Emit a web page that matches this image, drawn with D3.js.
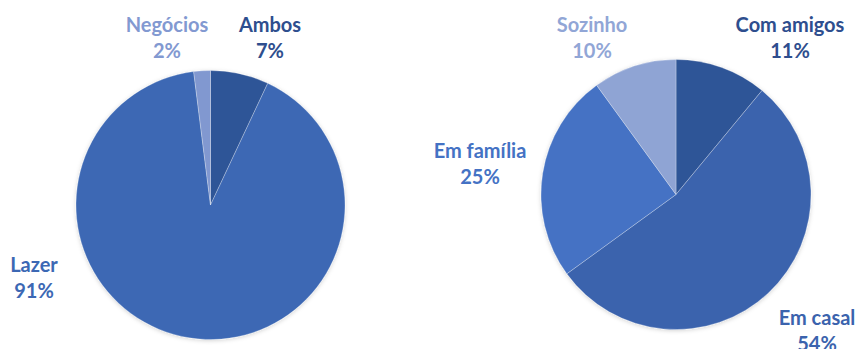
<!DOCTYPE html>
<html>
<head>
<meta charset="utf-8">
<script src="https://cdn.jsdelivr.net/npm/d3@7"></script>
<style>
  html, body { margin: 0; padding: 0; background: #fff; }
  svg { display: block; }
  text { font-family: Lato, "Open Sans", sans-serif; font-weight: 700; }
</style>
</head>
<body>
<svg id="chart" width="856" height="349"></svg>
<script>
// Motivo da viagem
const tripCategories = ["Ambos", "Lazer", "Negócios"];
const tripValues = [7, 91, 2];
const tripColors = ["#2F5597", "#3C68B4", "#8198D0"];
const tripLabelColors = ["#2E4E8E", "#3C68B4", "#8299D1"];

// Companhia na viagem
const companyCategories = ["Com amigos", "Em casal", "Em família", "Sozinho"];
const companyValues = [11, 54, 25, 10];
const companyColors = ["#2F5597", "#3B63AD", "#4472C4", "#8FA4D4"];
const companyLabelColors = ["#2E4E8E", "#3B63AD", "#4472C4", "#91A6D6"];

const svg = d3.select("#chart");

const defs = svg.append("defs");
const shadow = defs.append("filter").attr("id", "pieShadow")
  .attr("x", "-10%").attr("y", "-10%").attr("width", "120%").attr("height", "120%");
shadow.append("feDropShadow")
  .attr("dx", 0).attr("dy", 1).attr("stdDeviation", 2.2)
  .attr("flood-color", "#000").attr("flood-opacity", 0.18);

const pie = d3.pie().sort(null).value(d => d.value);

function drawPie(opts) {
  const data = opts.categories.map((c, i) => ({
    name: c, value: opts.values[i], color: opts.colors[i], labelColor: opts.labelColors[i],
    label: opts.labels[i]
  }));
  const arc = d3.arc().innerRadius(0).outerRadius(opts.r);
  const g = svg.append("g").attr("transform", `translate(${opts.cx},${opts.cy})`);

  g.append("g").attr("filter", "url(#pieShadow)")
    .selectAll("path")
    .data(pie(data))
    .join("path")
    .attr("d", arc)
    .attr("fill", d => d.data.color)
    .attr("stroke", "rgba(255,255,255,0.35)")
    .attr("stroke-width", 0.8);

  const labels = svg.append("g")
    .selectAll("text")
    .data(data)
    .join("text")
    .attr("text-anchor", "middle")
    .attr("font-size", 20)
    .attr("fill", d => d.labelColor);
  labels.append("tspan")
    .attr("x", d => d.label[0])
    .attr("y", d => d.label[1])
    .text(d => d.name);
  labels.append("tspan")
    .attr("x", d => d.label[0])
    .attr("y", d => d.label[1] + 26)
    .text(d => d.value + "%");
}

drawPie({
  categories: tripCategories, values: tripValues,
  colors: tripColors, labelColors: tripLabelColors,
  cx: 210.5, cy: 205, r: 134.5,
  labels: [[270, 32], [34, 272], [167, 32]]
});

drawPie({
  categories: companyCategories, values: companyValues,
  colors: companyColors, labelColors: companyLabelColors,
  cx: 676, cy: 194.5, r: 135,
  labels: [[790, 32], [817, 325], [480, 158], [592, 32]]
});
</script>
</body>
</html>
